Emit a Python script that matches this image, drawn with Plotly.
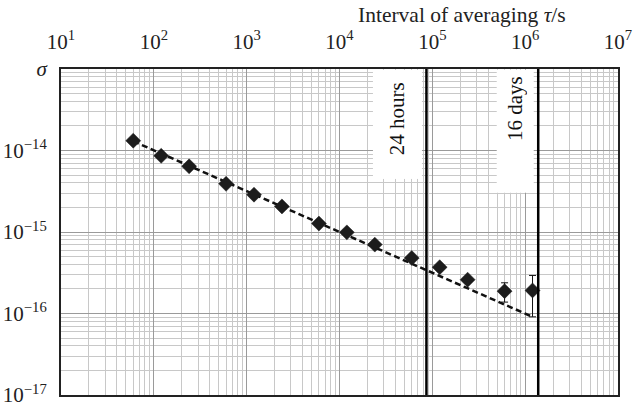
import numpy as np
import plotly.graph_objects as go

# ---- data ----
tau = [60, 120, 240, 600, 1200, 2400, 6000, 12000, 24000, 60000,
       120000, 240000, 600000, 1200000]
sigma = [1.32e-14, 8.6e-15, 6.4e-15, 3.9e-15, 2.87e-15, 2.06e-15, 1.27e-15,
         9.9e-16, 7.0e-16, 4.8e-16, 3.7e-16, 2.6e-16, 1.88e-16, 1.92e-16]
err_plus = [0, 0, 0, 0, 0, 0, 0, 0, 0, 0, 0, 0, 0.50e-16, 1.01e-16]
err_minus = [0, 0, 0, 0, 0, 0, 0, 0, 0, 0, 0, 0, 0.50e-16, 1.01e-16]

fit_tau = [60, 1200000]
fit_sigma = [1.3e-14, 9.1e-17]

mark_tau = [86400, 1382400]
mark_labels = ["24 hours", "16 days"]

x_tickvals = [1e1, 1e2, 1e3, 1e4, 1e5, 1e6, 1e7]
x_ticktext = ["10<sup>1</sup>", "10<sup>2</sup>", "10<sup>3</sup>", "10<sup>4</sup>",
              "10<sup>5</sup>", "10<sup>6</sup>", "10<sup>7</sup>"]
y_tickvals = [1e-17, 1e-16, 1e-15, 1e-14, 1e-13]
y_ticktext = ["10<sup>−17</sup>", "10<sup>−16</sup>", "10<sup>−15</sup>",
              "10<sup>−14</sup>", "<i>σ</i>"]

FONT = "Liberation Serif"
FS = 21

fig = go.Figure()
fig.add_trace(go.Scatter(
    x=fit_tau, y=fit_sigma, mode="lines",
    line=dict(color="#111111", width=2.5, dash="6px,3.5px"),
    showlegend=False, hoverinfo="skip"))
fig.add_trace(go.Scatter(
    x=tau, y=sigma, mode="markers",
    marker=dict(symbol="diamond", size=11.5, color="#1c1c1c",
                line=dict(color="#1c1c1c", width=0.5)),
    error_y=dict(type="data", symmetric=False, array=err_plus, arrayminus=err_minus,
                 color="#111111", thickness=1, width=3.5),
    showlegend=False))

shapes = []
for t in mark_tau:
    shapes.append(dict(type="line", xref="x", yref="paper", x0=t, x1=t, y0=0, y1=1,
                       line=dict(color="#000000", width=2.5)))

annotations = []
widths = [84, 110]
pads = [12, 6]
for t, lab, w, p in zip(mark_tau, mark_labels, widths, pads):
    annotations.append(dict(
        x=np.log10(t), y=1, xref="x", yref="paper", text=lab, showarrow=False,
        textangle=-90, xanchor="right", yanchor="top", xshift=-4,
        bgcolor="white", borderpad=p, width=w, align="right",
        font=dict(family=FONT, size=FS, color="#111111")))

annotations.append(dict(
    x=0.91, y=1.165, xref="paper", yref="paper",
    text="Interval of averaging <i>τ</i>/s", showarrow=False,
    xanchor="right", yanchor="middle",
    font=dict(family=FONT, size=21.5, color="#222222")))

fig.update_layout(
    width=633, height=408,
    margin=dict(l=61, r=15, t=69, b=13, autoexpand=False),
    paper_bgcolor="white", plot_bgcolor="white",
    shapes=shapes, annotations=annotations,
    font=dict(family=FONT, size=FS, color="#222222"),
)
fig.update_xaxes(
    type="log", range=[1, 7], side="top", automargin=False,
    tickvals=x_tickvals, ticktext=x_ticktext, ticks="", ticklabelstandoff=10,
    showgrid=True, gridcolor="#9a9a9a", gridwidth=1,
    minor=dict(showgrid=True, gridcolor="#c8c8c8", gridwidth=1, dtick="D1", ticks=""),
    showline=True, linecolor="#222222", linewidth=2, mirror=True, zeroline=False,
    tickfont=dict(family=FONT, size=FS, color="#222222"))
fig.update_yaxes(
    type="log", range=[-17, -13], automargin=False,
    tickvals=y_tickvals, ticktext=y_ticktext, ticks="", ticklabelstandoff=8,
    showgrid=True, gridcolor="#9a9a9a", gridwidth=1,
    minor=dict(showgrid=True, gridcolor="#c8c8c8", gridwidth=1, dtick="D1", ticks=""),
    showline=True, linecolor="#222222", linewidth=2, mirror=True, zeroline=False,
    tickfont=dict(family=FONT, size=FS, color="#222222"))

fig.write_html("out.html", config={"displayModeBar": False},
               post_script="document.body.style.margin='0';")
